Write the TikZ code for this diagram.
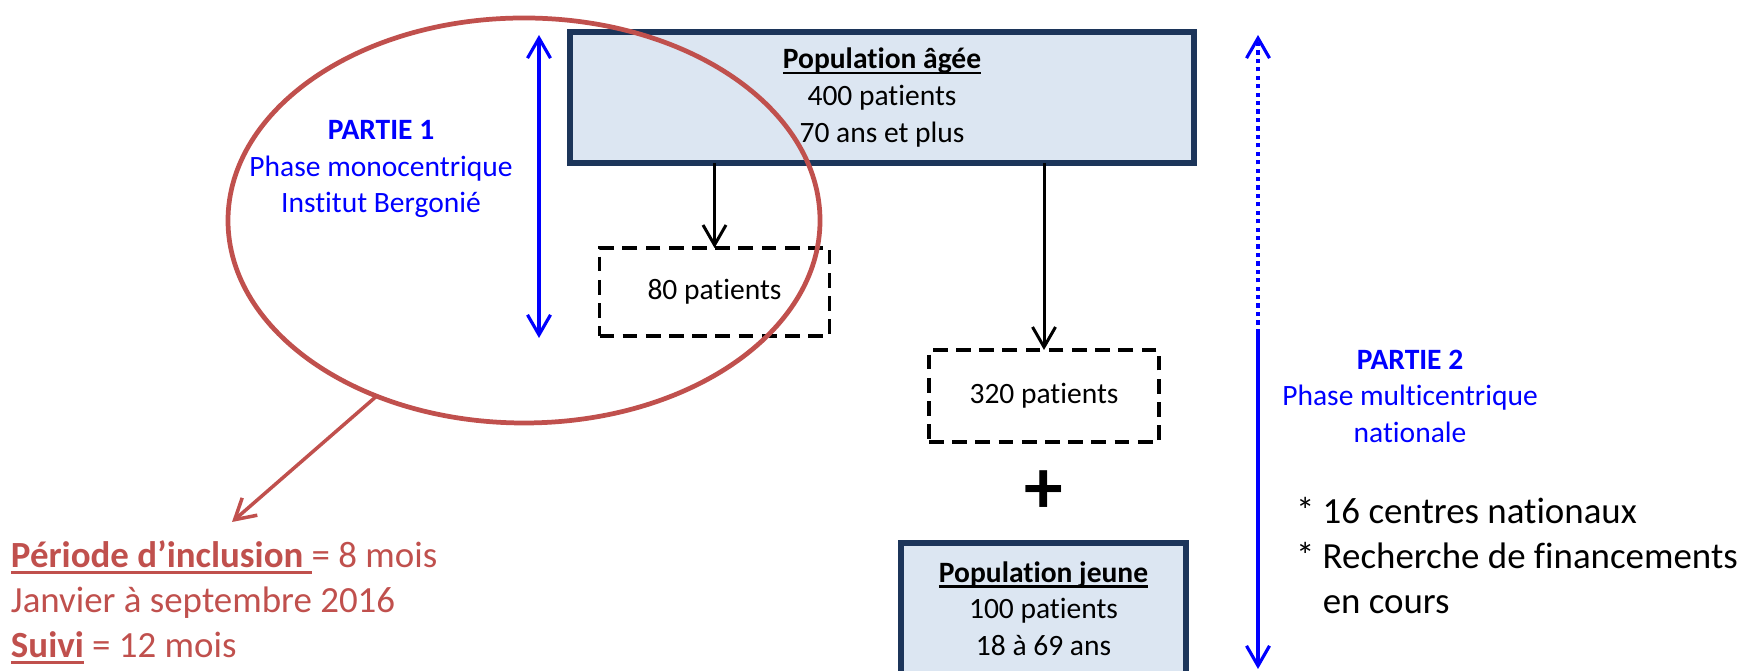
\documentclass[tikz,border=0pt]{standalone}
\usepackage{fontspec}
\setmainfont{Carlito}[Ligatures=NoCommon]
\usetikzlibrary{arrows.meta, positioning, shapes.geometric}

\definecolor{navy}{HTML}{1C355A}
\definecolor{paleblue}{HTML}{DCE6F2}
\definecolor{brick}{HTML}{C0504D}

\newcommand{\undl}[1]{\setbox0\hbox{#1}\rlap{\vrule width\wd0 height -0.11em depth 0.18em}\box0\relax}

\begin{document}
\begin{tikzpicture}[
        >={Straight Barb[length=2mm, width=2.3mm]},
        every node/.style={inner sep=0pt, outer sep=0pt, align=center},
        boxfont/.style={font=\fontsize{8.4}{10.4}\selectfont},
        listfont/.style={font=\fontsize{10.5}{12.8}\selectfont},
        popbox/.style={boxfont, draw=navy, line width=1.7pt, fill=paleblue, minimum height=1.31cm},
        dashbox/.style={boxfont, draw, line width=1.05pt, dash pattern=on 4.2pt off 2.4pt, minimum width=2.3cm},
        conn/.style={->, line width=0.85pt},
        bluearr/.style={blue, line width=0.9pt}
    ]

        \useasboundingbox (0,0) rectangle (17.42,-6.71);
        \clip (0,0) rectangle (17.42,-6.71);

        % Populations
        \node[popbox, minimum width=6.24cm] (agee) at (8.82,-0.975)
            {\undl{\textbf{Population âgée}}\\400 patients\\70 ans et plus};
        \node[dashbox, minimum height=0.88cm] (p80) at (7.145,-2.92) {80 patients};
        \node[dashbox, minimum height=0.92cm] (p320) at (10.44,-3.96) {320 patients};
        \node[font=\fontsize{22}{22}\selectfont\bfseries] (plus) at (10.44,-4.92) {+};
        \node[popbox, minimum width=2.85cm] (jeune) at (10.435,-6.085)
            {\undl{\textbf{Population jeune}}\\100 patients\\18 à 69 ans};

        \foreach \dst in {p80, p320} {
            \draw[conn] (agee.south -| \dst) -- (\dst.north);
        }

        % Phases
        \coordinate (p1top) at (5.39,-0.35);
        \coordinate (p1bot) at (5.39,-3.38);
        \draw[bluearr, <->] (p1top) -- (p1bot);
        \node[boxfont, text=blue] (part1) at (3.81,-1.69)
            {\textbf{PARTIE 1}\\Phase monocentrique\\Institut Bergonié};

        \coordinate (p2top) at (12.58,-0.35);
        \coordinate (p2mid) at (12.58,-3.33);
        \coordinate (p2bot) at (12.58,-6.69);
        \draw[bluearr, ->, dash pattern=on 1.2pt off 1.2pt] (p2mid) -- (p2top);
        \draw[bluearr, ->] (p2mid) -- (p2bot);
        \node[boxfont, text=blue] (part2) at (14.10,-3.96)
            {\textbf{PARTIE 2}\\Phase multicentrique\\nationale};

        \node[listfont, anchor=west, align=left] (centres) at (12.96,-5.56)
            {* 16 centres nationaux\\* Recherche de financements\\\hphantom{*~}en cours};

        % Inclusion period
        \node[draw=brick, line width=1.35pt, ellipse, minimum width=5.92cm, minimum height=4.05cm] (zone) at (5.24,-2.205) {};
        \coordinate (incltip) at (2.32,-5.22);
        \draw[brick, line width=1pt, ->] (zone.230) -- (incltip);
        \node[listfont, text=brick, anchor=west, align=left] (incl) at (0.11,-6.02)
            {\undl{\textbf{Période d’inclusion }}= 8 mois\\Janvier à septembre 2016\\\undl{\textbf{Suivi}} = 12 mois};

\end{tikzpicture}
\end{document}
